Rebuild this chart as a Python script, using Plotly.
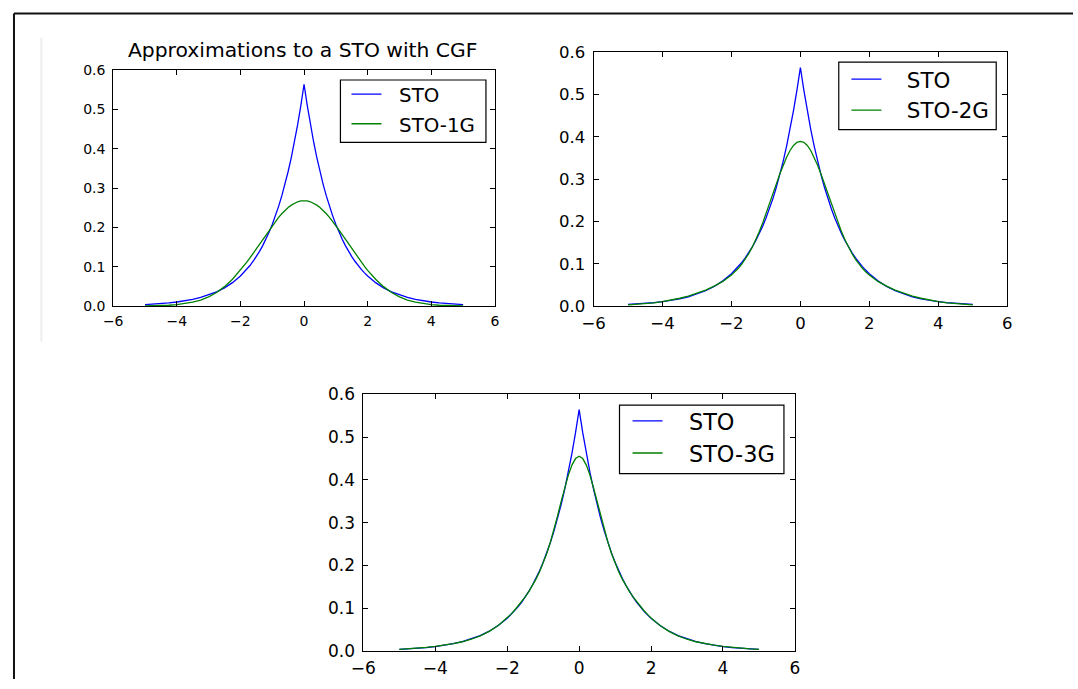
import plotly.graph_objects as go

# ---------------- data ----------------
x_vals = [-5.0, -4.75, -4.5, -4.25, -4.0, -3.75, -3.5, -3.25, -3.0, -2.75, -2.5, -2.25,
          -2.0, -1.9, -1.8, -1.7, -1.6, -1.5, -1.4, -1.3, -1.2, -1.1,
          -1.0, -0.9, -0.8, -0.7, -0.6, -0.5, -0.4, -0.3, -0.2, -0.1,
          0.0,
          0.1, 0.2, 0.3, 0.4, 0.5, 0.6, 0.7, 0.8, 0.9, 1.0,
          1.1, 1.2, 1.3, 1.4, 1.5, 1.6, 1.7, 1.8, 1.9, 2.0,
          2.25, 2.5, 2.75, 3.0, 3.25, 3.5, 3.75, 4.0, 4.25, 4.5, 4.75, 5.0]

sto = [0.0038, 0.0049, 0.0063, 0.0080, 0.0103, 0.0133, 0.0170, 0.0219, 0.0281, 0.0361, 0.0463, 0.0595,
       0.0763, 0.0844, 0.0932, 0.1030, 0.1139, 0.1258, 0.1391, 0.1537, 0.1699, 0.1877,
       0.2075, 0.2293, 0.2534, 0.2801, 0.3095, 0.3421, 0.3781, 0.4178, 0.4618, 0.5103,
       0.5640,
       0.5103, 0.4618, 0.4178, 0.3781, 0.3421, 0.3095, 0.2801, 0.2534, 0.2293, 0.2075,
       0.1877, 0.1699, 0.1537, 0.1391, 0.1258, 0.1139, 0.1030, 0.0932, 0.0844, 0.0763,
       0.0595, 0.0463, 0.0361, 0.0281, 0.0219, 0.0170, 0.0133, 0.0103, 0.0080, 0.0063, 0.0049, 0.0038]

sto_1g = [0.0003, 0.0006, 0.0011, 0.0020, 0.0035, 0.0059, 0.0097, 0.0153, 0.0234, 0.0345, 0.0493, 0.0680,
          0.0907, 0.1008, 0.1114, 0.1225, 0.1340, 0.1457, 0.1576, 0.1696, 0.1814, 0.1931,
          0.2044, 0.2152, 0.2253, 0.2347, 0.2431, 0.2504, 0.2566, 0.2615, 0.2651, 0.2673,
          0.2680,
          0.2673, 0.2651, 0.2615, 0.2566, 0.2504, 0.2431, 0.2347, 0.2253, 0.2152, 0.2044,
          0.1931, 0.1814, 0.1696, 0.1576, 0.1457, 0.1340, 0.1225, 0.1114, 0.1008, 0.0907,
          0.0680, 0.0493, 0.0345, 0.0234, 0.0153, 0.0097, 0.0059, 0.0035, 0.0020, 0.0011, 0.0006, 0.0003]

sto_2g = [0.0027, 0.0038, 0.0055, 0.0076, 0.0104, 0.0139, 0.0184, 0.0237, 0.0301, 0.0378, 0.0469, 0.0582,
          0.0731, 0.0806, 0.0892, 0.0991, 0.1105, 0.1236, 0.1386, 0.1554, 0.1742, 0.1949,
          0.2171, 0.2404, 0.2643, 0.2882, 0.3114, 0.3329, 0.3520, 0.3678, 0.3796, 0.3869,
          0.3894,
          0.3869, 0.3796, 0.3678, 0.3520, 0.3329, 0.3114, 0.2882, 0.2643, 0.2404, 0.2171,
          0.1949, 0.1742, 0.1554, 0.1386, 0.1236, 0.1105, 0.0991, 0.0892, 0.0806, 0.0731,
          0.0582, 0.0469, 0.0378, 0.0301, 0.0237, 0.0184, 0.0139, 0.0104, 0.0076, 0.0055, 0.0038, 0.0027]

sto_3g = [0.0039, 0.0051, 0.0066, 0.0085, 0.0107, 0.0136, 0.0171, 0.0216, 0.0275, 0.0354, 0.0458, 0.0595,
          0.0772, 0.0856, 0.0946, 0.1044, 0.1150, 0.1264, 0.1389, 0.1526, 0.1679, 0.1852,
          0.2050, 0.2279, 0.2542, 0.2836, 0.3157, 0.3496, 0.3816, 0.4110, 0.4345, 0.4497,
          0.4550,
          0.4497, 0.4345, 0.4110, 0.3816, 0.3496, 0.3157, 0.2836, 0.2542, 0.2279, 0.2050,
          0.1852, 0.1679, 0.1526, 0.1389, 0.1264, 0.1150, 0.1044, 0.0946, 0.0856, 0.0772,
          0.0595, 0.0458, 0.0354, 0.0275, 0.0216, 0.0171, 0.0136, 0.0107, 0.0085, 0.0066, 0.0051, 0.0039]

approx_names = ["STO-1G", "STO-2G", "STO-3G"]
title_text = "Approximations to a STO with CGF"

x_tickvals = [-6, -4, -2, 0, 2, 4, 6]
x_ticktext = ["\u22126", "\u22124", "\u22122", "0", "2", "4", "6"]
y_tickvals = [0.0, 0.1, 0.2, 0.3, 0.4, 0.5, 0.6]
y_ticktext = ["0.0", "0.1", "0.2", "0.3", "0.4", "0.5", "0.6"]

# ---------------- layout helpers ----------------
W, H = 1078, 689
FONT = "DejaVu Sans"
BLUE = "#0000ff"
GREEN = "#008000"

# target positions are given in screenshot pixels; the page puts the figure
# a few pixels in from the edge, so convert to figure-paper fractions here.
SX, OX = 0.9866, 9.47
SY, OY = 0.9795, 6.37


def px_x(p):
    return ((p - OX) / SX) / W


def px_y(p):
    return 1 - ((p - OY) / SY) / H


panels = [
    dict(box=(110, 493, 67, 305), tick=14,
         legbox=(338, 484, 77, 140), leg=(344.1, 71.6), legfont=19.8, gap=1,
         pad="\u00a0\u00a0"),
    dict(box=(592, 1007, 49, 305), tick=16.5,
         legbox=(838, 996, 59, 127), leg=(845.7, 55.6), legfont=21.4, gap=0,
         pad="\u00a0\u00a0\u00a0"),
    dict(box=(361, 794, 394, 653), tick=17,
         legbox=(618, 783, 405, 474), leg=(626.1, 399.6), legfont=22.4, gap=0,
         pad="\u00a0\u00a0\u00a0"),
]

fig = go.Figure()
approx_data = [sto_1g, sto_2g, sto_3g]
shapes = []

for i, (p, approx, name) in enumerate(zip(panels, approx_data, approx_names)):
    n = "" if i == 0 else str(i + 1)
    leg = "legend" + n
    fig.add_trace(go.Scatter(x=x_vals, y=sto, mode="lines", name=p["pad"] + "STO",
                             line=dict(color=BLUE, width=1.3),
                             xaxis="x" + n, yaxis="y" + n, legend=leg,
                             legendgroup="a" + n))
    fig.add_trace(go.Scatter(x=x_vals, y=approx, mode="lines", name=p["pad"] + name,
                             line=dict(color=GREEN, width=1.3),
                             xaxis="x" + n, yaxis="y" + n, legend=leg,
                             legendgroup="b" + n))
    l, r, t, b = p["box"]
    common = dict(showgrid=False, zeroline=False, showline=True, linecolor="black",
                  linewidth=1, mirror="ticks", ticks="inside", ticklen=5,
                  tickcolor="black", tickwidth=1,
                  tickfont=dict(family=FONT, size=p["tick"], color="black"))
    fig.update_layout(**{
        "xaxis" + n: dict(domain=[px_x(l), px_x(r)], range=[-6, 6],
                          tickvals=x_tickvals, ticktext=x_ticktext,
                          anchor="y" + n, ticklabelstandoff=2, **common),
        "yaxis" + n: dict(domain=[px_y(b), px_y(t)], range=[0, 0.6],
                          tickvals=y_tickvals, ticktext=y_ticktext,
                          anchor="x" + n, ticklabelstandoff=4, **common),
        leg: dict(x=px_x(p["leg"][0]), y=px_y(p["leg"][1]), xanchor="left",
                  yanchor="top", bgcolor="rgba(0,0,0,0)", borderwidth=0,
                  font=dict(family=FONT, size=p["legfont"], color="black"),
                  traceorder="grouped", tracegroupgap=p["gap"]),
    })
    bl, br, bt, bb = p["legbox"]
    shapes.append(dict(type="rect", xref="paper", yref="paper", layer="above",
                       x0=px_x(bl), x1=px_x(br), y0=px_y(bb), y1=px_y(bt),
                       fillcolor="white", line=dict(color="black", width=1.2)))

shapes += [
    dict(type="line", xref="paper", yref="paper", x0=1 / W, x1=1,
         y0=px_y(10), y1=px_y(10), line=dict(color="#111111", width=2)),
    dict(type="line", xref="paper", yref="paper", x0=1 / W, x1=1 / W,
         y0=px_y(10), y1=0, line=dict(color="#111111", width=2)),
    dict(type="line", xref="paper", yref="paper", x0=px_x(38), x1=px_x(38),
         y0=px_y(34), y1=px_y(341), line=dict(color="#eeeeee", width=2)),
]

fig.update_layout(
    width=W, height=H,
    margin=dict(l=0, r=0, t=0, b=0),
    paper_bgcolor="white", plot_bgcolor="white",
    showlegend=True,
    annotations=[dict(text=title_text, x=px_x(300), y=px_y(61), xref="paper",
                      yref="paper", xanchor="center", yanchor="bottom",
                      showarrow=False,
                      font=dict(family=FONT, size=20.3, color="black"))],
    shapes=shapes,
)

fig.write_html("out.html")
